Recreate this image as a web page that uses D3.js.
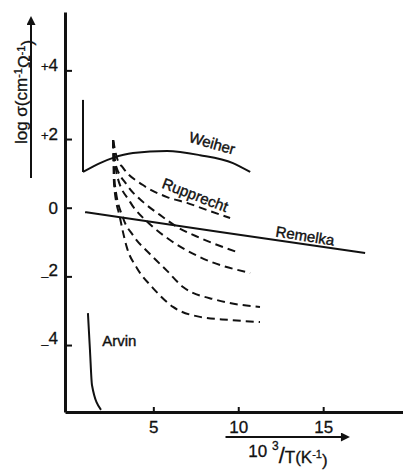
<!DOCTYPE html>
<html>
<head>
<meta charset="utf-8">
<script src="https://cdn.jsdelivr.net/npm/d3@7"></script>
<style>
  body { margin: 0; background: #fff; }
  svg text { font-family: "Liberation Sans", Arial, sans-serif; fill: #111; }
</style>
</head>
<body>
<div id="chart"></div>
<script>
// values: x = 10^3/T (K^-1), y = log sigma
const weiherDrop = [[0.86, 3.14], [0.86, 1.04]];
const weiher = [[0.86, 1.04], [1.86, 1.30], [2.63, 1.45], [3.8, 1.59],
                [5.81, 1.65], [7.75, 1.53], [9.69, 1.30], [10.7, 1.04]];
const remelka = [[0.98, -0.13], [8.93, -0.71], [17.47, -1.32]];
const arvin = [[1.15, -3.07], [1.27, -4.15], [1.39, -5.17], [1.92, -5.89]];

// Rupprecht family (dashed), all from the same start
const rupprecht1 = [[2.63, 1.97], [2.86, 1.45], [3.22, 1.16], [4.39, 0.66], [5.81, 0.31],
                    [6.98, 0.14], [8.34, -0.10], [9.52, -0.30]];
const rupprecht2 = [[2.63, 1.97], [2.74, 1.33], [3.45, 0.66], [4.39, 0.17], [5.39, -0.21],
                    [6.4, -0.56], [7.75, -0.88], [9.93, -1.29]];
const rupprecht3 = [[2.63, 1.97], [2.86, 0.95], [3.63, 0.17], [4.8, -0.48], [5.98, -0.94],
                    [7.75, -1.44], [10.7, -1.90]];
const rupprecht4 = [[2.63, 1.97], [2.74, 0.66], [3.22, -0.30], [3.8, -0.80], [4.8, -1.35],
                    [5.81, -1.84], [6.75, -2.31], [8.75, -2.69], [11.28, -2.89]];
const rupprecht5 = [[2.63, 1.97], [2.69, 0.66], [3.04, -0.30], [3.45, -1.17], [4.04, -1.76],
                    [4.98, -2.34], [6.16, -2.89], [7.75, -3.18], [9.52, -3.27], [11.28, -3.33]];

const xTicks = [5, 10, 15];
const yTicks = [4, 2, 0, -2, -4];
const yTickLabels = ["+4", "+2", "0", "-2", "-4"];

const width = 403, height = 473;

const svg = d3.select("#chart").append("svg")
    .attr("width", width).attr("height", height);

let x = d3.scaleLinear().domain([-0.2, 19.7]).range([65, 403]);
let y = d3.scaleLinear().domain([-5.95, 5.7]).range([412, 12]);

// axes
let xAxis = svg.append("g")
    .attr("transform", `translate(0,${y(-5.95)})`)
    .call(d3.axisBottom(x).tickValues(xTicks).tickSizeInner(-5).tickSizeOuter(0).tickPadding(9));
xAxis.selectAll("text").attr("font-size", 17).attr("fill", "#111")
    .attr("stroke", "#111").attr("stroke-width", 0.3);

let yAxis = svg.append("g")
    .attr("transform", `translate(${x(-0.2)},0)`)
    .call(d3.axisLeft(y).tickValues(yTicks).tickSizeInner(-7).tickSizeOuter(0).tickPadding(7)
        .tickFormat((d, i) => yTickLabels[i]));
yAxis.selectAll("text").attr("font-size", 17).attr("fill", "#111")
    .attr("stroke", "#111").attr("stroke-width", 0.3);

// low dash on the negative labels, like the original lettering
yAxis.selectAll(".tick text").each(function(d, i) {
    let t = d3.select(this);
    let lab = yTickLabels[i];
    if (lab[0] == "-" || lab[0] == "+") {
        t.text(null);
        t.append("tspan").text(lab[0] == "-" ? "\u2013" : "+")
            .attr("font-size", 13)
            .attr("dy", lab[0] == "-" ? "0.3em" : "0");
        t.append("tspan").text(lab.slice(1))
            .attr("dy", lab[0] == "-" ? "-0.3em" : "0");
    }
});

svg.selectAll(".domain").attr("stroke", "#111").attr("stroke-width", 3);
svg.selectAll(".tick line").attr("stroke", "#111").attr("stroke-width", 2);

// curves
let line = d3.line()
    .x(d => x(d[0]))
    .y(d => y(d[1]))
    .curve(d3.curveMonotoneX);

let straight = d3.line()
    .x(d => x(d[0]))
    .y(d => y(d[1]));

svg.append("path").datum(weiherDrop)
    .attr("d", straight)
    .attr("fill", "none").attr("stroke", "#111").attr("stroke-width", 2);

let solid = [weiher, remelka, arvin];
svg.selectAll(".solid").data(solid).join("path")
    .attr("class", "solid")
    .attr("d", line)
    .attr("fill", "none")
    .attr("stroke", "#111")
    .attr("stroke-width", 2);

let dashed = [rupprecht1, rupprecht2, rupprecht3, rupprecht4, rupprecht5];
svg.selectAll(".dashed").data(dashed).join("path")
    .attr("class", "dashed")
    .attr("d", line)
    .attr("fill", "none")
    .attr("stroke", "#111")
    .attr("stroke-width", 2)
    .attr("stroke-dasharray", "8,5");

// curve labels
let labels = [
    {text: "Weiher", v: 8.46, d: 1.88, rot: 16},
    {text: "Rupprecht", v: 7.46, d: 0.37, rot: 21},
    {text: "Remelka", v: 13.93, d: -0.82, rot: 9},
    {text: "Arvin", v: 3.0, d: -3.88, rot: 0}
];
svg.selectAll(".clabel").data(labels).join("text")
    .attr("class", "clabel")
    .attr("transform", d => `translate(${x(d.v)},${y(d.d)}) rotate(${d.rot})`)
    .attr("text-anchor", "middle")
    .attr("dy", "0.35em")
    .attr("font-size", 15)
    .attr("stroke", "#111").attr("stroke-width", 0.4)
    .text(d => d.text);

// arrowheads
let defs = svg.append("defs");
defs.append("marker").attr("id", "arr")
    .attr("viewBox", "0 0 10 10").attr("refX", 1).attr("refY", 5)
    .attr("markerWidth", 12).attr("markerHeight", 9)
    .attr("markerUnits", "userSpaceOnUse")
    .attr("orient", "auto")
    .append("path").attr("d", "M0,0 L10,5 L0,10 Z").attr("fill", "#111");

// y label with arrow
svg.append("line")
    .attr("x1", 31).attr("x2", 31).attr("y1", 178).attr("y2", 24)
    .attr("stroke", "#111").attr("stroke-width", 2)
    .attr("marker-end", "url(#arr)");

let ylab = svg.append("text")
    .attr("transform", "translate(27,92) rotate(-90)")
    .attr("text-anchor", "middle")
    .attr("font-size", 17)
    .attr("stroke", "#111").attr("stroke-width", 0.3);
ylab.append("tspan").text("log σ(cm");
ylab.append("tspan").text("-1").attr("font-size", 11).attr("dy", "-0.5em");
ylab.append("tspan").text("Ω").attr("dy", "0.5em");
ylab.append("tspan").text("-1").attr("font-size", 11).attr("dy", "-0.5em");
ylab.append("tspan").text(")").attr("dy", "0.5em");

// x label with arrow
svg.append("line")
    .attr("x1", x(9.25)).attr("x2", x(16.1)).attr("y1", 437).attr("y2", 437)
    .attr("stroke", "#111").attr("stroke-width", 2)
    .attr("marker-end", "url(#arr)");

let xlab = svg.append("text")
    .attr("x", 288).attr("y", 457)
    .attr("text-anchor", "middle")
    .attr("font-size", 17)
    .attr("stroke", "#111").attr("stroke-width", 0.3);
xlab.append("tspan").text("10 ");
xlab.append("tspan").text("3").attr("font-size", 12).attr("dy", "-0.6em");
xlab.append("tspan").text("/").attr("font-size", 22).attr("dy", "0.6em");
xlab.append("tspan").text("T(K");
xlab.append("tspan").text("-1").attr("font-size", 11).attr("dy", "-0.5em");
xlab.append("tspan").text(")").attr("dy", "0.5em");
</script>
</body>
</html>
